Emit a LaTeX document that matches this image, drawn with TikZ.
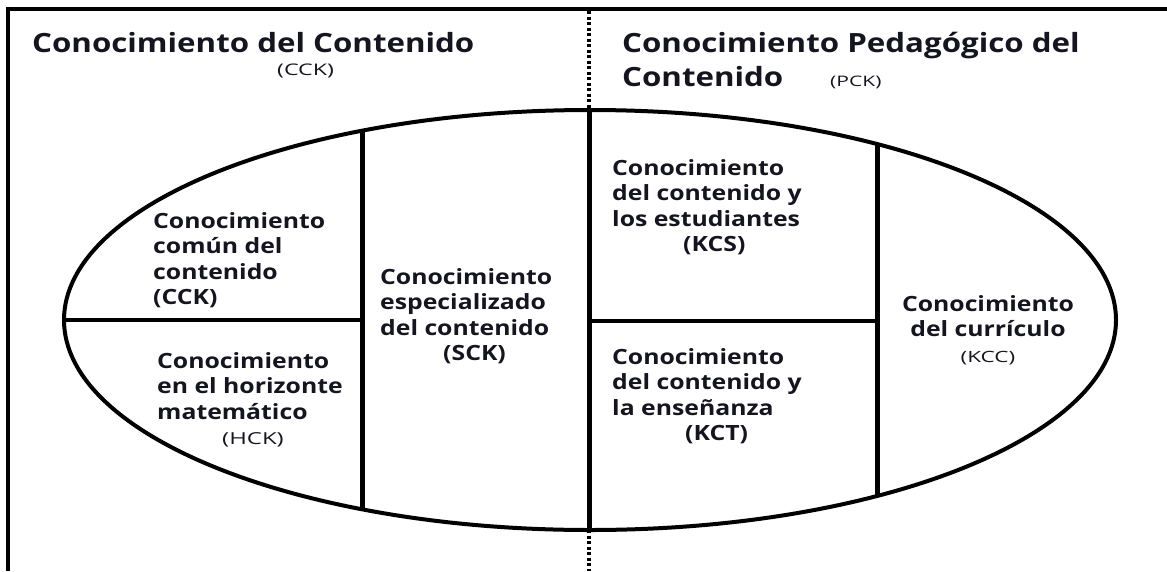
\documentclass[tikz,border=0pt]{standalone}
\usepackage{fontspec}
\setmainfont{Open Sans}
\newfontfamily\wf[FakeStretch=1.18]{Open Sans}
\newfontfamily\rf[FakeStretch=1.45]{Open Sans}
\definecolor{ink}{HTML}{15151F}
\begin{document}
\begin{tikzpicture}[x=1pt,y=-1pt,
  frame/.style={line width=4pt},
  divider/.style={line width=3.5pt, dash pattern=on 3pt off 2.5pt},
  ring/.style={line width=4pt},
  wall/.style={line width=5pt},
  floor/.style={line width=3.5pt},
  title/.style={inner sep=0pt, anchor=base west, text=ink, font=\wf\bfseries\fontsize{26.5}{30}\selectfont},
  abbr/.style={inner sep=0pt, anchor=base west, text=ink, font=\rf\fontsize{16}{20}\selectfont},
  cell/.style={inner sep=0pt, anchor=north west, align=left, text=ink, font=\wf\bfseries\fontsize{21}{25.5}\selectfont},
  ccell/.style={inner sep=0pt, anchor=north, align=center, text=ink, font=\wf\bfseries\fontsize{21}{25.5}\selectfont}
]
\useasboundingbox (0,0) rectangle (1167,571);
% frame
\coordinate (tr) at (1167,9);
\coordinate (tl) at (8,9);
\coordinate (bl) at (8,571);
\draw[frame] (tr) -- (tl) -- (bl);
% ellipse
\draw[ring] (590,320) ellipse [x radius=526, y radius=210];
% coordinates
\coordinate (dTop) at (589,11);
\coordinate (eTop) at (589,110);
\coordinate (eBot) at (589,530);
\coordinate (dBot) at (589,571);
\coordinate (aTop) at (362,131);
\coordinate (aBot) at (362,509);
\coordinate (bTop) at (877,144);
\coordinate (bBot) at (877,496);
\coordinate (hL1) at (64,320);
\coordinate (hL2) at (362,320);
\coordinate (hR1) at (589,321);
\coordinate (hR2) at (877,321);
\draw[divider] (dTop) -- (eTop);
\draw[divider] (eBot) -- (dBot);
\draw[wall] (eTop) -- (eBot);
\draw[wall] (aTop) -- (aBot);
\draw[wall] (bTop) -- (bBot);
\draw[floor] (hL1) -- (hL2);
\draw[floor] (hR1) -- (hR2);
% titles
\node[title] (t1) at (32,52) {Conocimiento del Contenido};
\node[abbr] (t1a) at (277,75) {(CCK)};
\node[title] (t2) at (622,52) {Conocimiento Pedagógico del};
\node[title] (t3) at (622,86) {Contenido};
\node[abbr, font=\rf\fontsize{14.5}{18}\selectfont] (t3a) at (830,86) {(PCK)};
% cells
\node[cell] (cck) at (153,212) {Conocimiento\\común del\\contenido\\(CCK)};
\node[cell] (hck) at (157,352) {Conocimiento\\en el horizonte\\matemático\\\hspace*{65pt}{\rf\mdseries\fontsize{16.5}{25.5}\selectfont(HCK)}};
\node[cell] (sck) at (380,268) {Conocimiento\\especializado\\del contenido\\\hspace*{63pt}(SCK)};
\node[cell] (kcs) at (612,159) {Conocimiento\\del contenido y\\los estudiantes\\\hspace*{71pt}(KCS)};
\node[cell] (kct) at (612,348) {Conocimiento\\del contenido y\\la enseñanza\\\hspace*{73pt}(KCT)};
\node[ccell] (kcc) at (988,295) {Conocimiento\\del currículo\\{\rf\mdseries\fontsize{15.5}{25.5}\selectfont(KCC)}};
\end{tikzpicture}
\end{document}
